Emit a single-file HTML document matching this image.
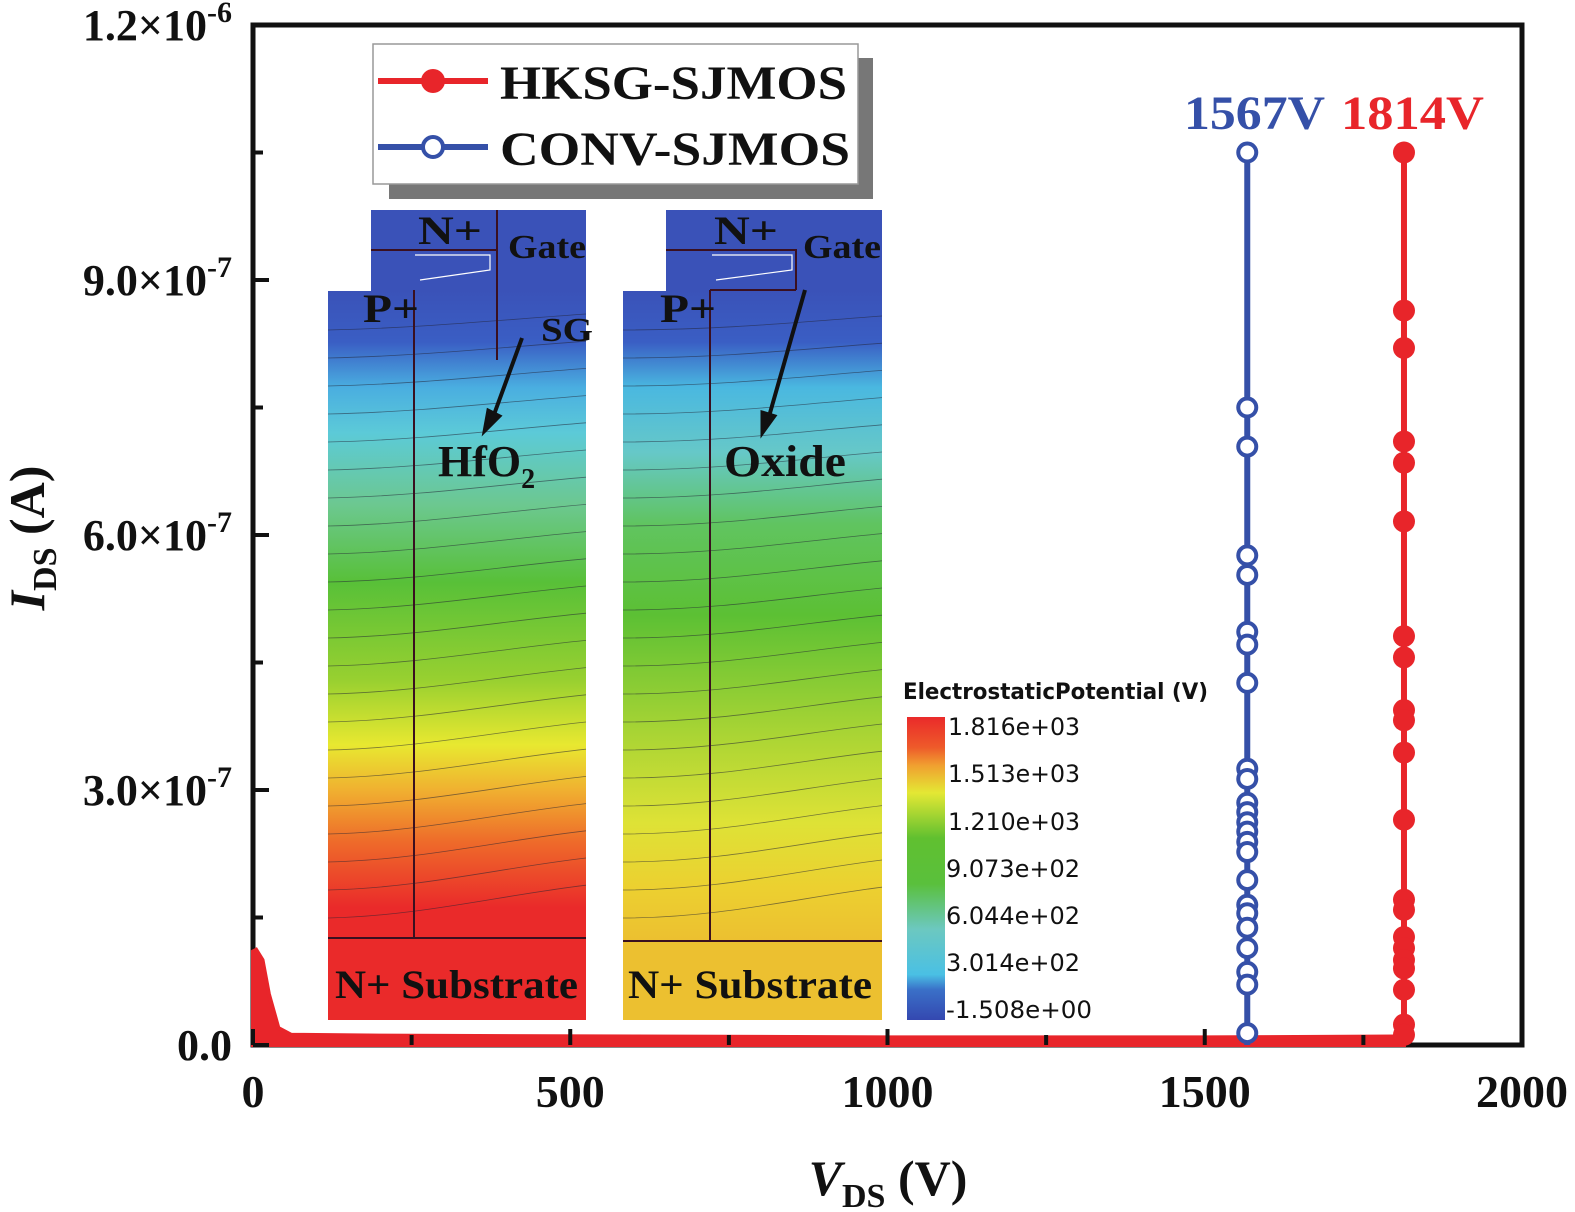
<!DOCTYPE html>
<html><head><meta charset="utf-8"><style>
body{margin:0;background:#fff}
svg{display:block}
.t{font-family:"Liberation Serif",serif;font-weight:bold;fill:#111}
.s{font-family:"DejaVu Sans","Liberation Sans",sans-serif;fill:#111}
</style></head><body>
<svg id="c" width="1575" height="1212" viewBox="0 0 1575 1212" xmlns="http://www.w3.org/2000/svg">
<defs>
<linearGradient id="gL" gradientUnits="userSpaceOnUse" x1="0" y1="290" x2="0" y2="940">
<stop offset="0" stop-color="#3a52b8"/><stop offset="0.08" stop-color="#3a5ec4"/><stop offset="0.15" stop-color="#4aaee0"/><stop offset="0.22" stop-color="#5ccad8"/><stop offset="0.33" stop-color="#6cc890"/><stop offset="0.45" stop-color="#58c038"/><stop offset="0.6" stop-color="#98d030"/><stop offset="0.7" stop-color="#e8e830"/><stop offset="0.77" stop-color="#f0b030"/><stop offset="0.85" stop-color="#ee6a2a"/><stop offset="0.95" stop-color="#ea2a2a"/><stop offset="1" stop-color="#ea2a2a"/>
</linearGradient>
<linearGradient id="gR" gradientUnits="userSpaceOnUse" x1="0" y1="290" x2="0" y2="940">
<stop offset="0" stop-color="#3a52b8"/><stop offset="0.08" stop-color="#3a5ec4"/><stop offset="0.15" stop-color="#4ab8e0"/><stop offset="0.25" stop-color="#66c8c8"/><stop offset="0.36" stop-color="#60c460"/><stop offset="0.5" stop-color="#5cc034"/><stop offset="0.68" stop-color="#a8d434"/><stop offset="0.82" stop-color="#dee236"/><stop offset="0.92" stop-color="#ecd030"/><stop offset="1" stop-color="#ecc030"/>
</linearGradient>
<linearGradient id="gC" x1="0" y1="1" x2="0" y2="0">
<stop offset="0" stop-color="#3448b0"/><stop offset="0.1" stop-color="#3a70c8"/><stop offset="0.15" stop-color="#4ac0e4"/><stop offset="0.3" stop-color="#6cc8c0"/><stop offset="0.45" stop-color="#5ac03c"/><stop offset="0.6" stop-color="#60c030"/><stop offset="0.75" stop-color="#e4e834"/><stop offset="0.84" stop-color="#f0a030"/><stop offset="0.9" stop-color="#ee5a2a"/><stop offset="1" stop-color="#ea2a2a"/>
</linearGradient>
</defs>
<g id="insets">
<path d="M371,210H586V1020H328V291H371Z" fill="url(#gL)"/>
<rect x="328" y="938" width="258" height="82" fill="#ea2a2a"/>
<path d="M666,210H882V941H623V291H666Z" fill="url(#gR)"/>
<rect x="623" y="941" width="259" height="79" fill="#ecc030"/>
<g id="contours" stroke="#223" stroke-width="0.8" fill="none" opacity="0.55"></g>
<path d="M414,290V938M328,938H586M371,250H497V290M497,210V360" stroke="#3a1020" stroke-width="2" fill="none"/>
<path d="M710,290V941M623,941H882M666,250H796V290M710,290H796" stroke="#3a1020" stroke-width="2" fill="none"/>
<path d="M415,255H490V270L420,280" stroke="#fff" stroke-width="1.2" fill="none"/>
<path d="M712,255H792V270L716,280" stroke="#fff" stroke-width="1.2" fill="none"/>
<text class="t" x="418" y="244" font-size="40" textLength="64" lengthAdjust="spacingAndGlyphs">N+</text>
<text class="t" x="508" y="258" font-size="34" textLength="78" lengthAdjust="spacingAndGlyphs">Gate</text>
<text class="t" x="363" y="322" font-size="40" textLength="56" lengthAdjust="spacingAndGlyphs">P+</text>
<text class="t" x="541" y="341" font-size="34" textLength="52" lengthAdjust="spacingAndGlyphs">SG</text>
<text class="t" x="438" y="476" font-size="44">HfO<tspan font-size="28" dy="12">2</tspan></text>
<text class="t" x="335" y="998" font-size="40" textLength="243" lengthAdjust="spacingAndGlyphs">N+ Substrate</text>
<text class="t" x="714" y="244" font-size="40" textLength="64" lengthAdjust="spacingAndGlyphs">N+</text>
<text class="t" x="803" y="258" font-size="34" textLength="78" lengthAdjust="spacingAndGlyphs">Gate</text>
<text class="t" x="660" y="322" font-size="40" textLength="56" lengthAdjust="spacingAndGlyphs">P+</text>
<text class="t" x="724" y="476" font-size="44" textLength="122" lengthAdjust="spacingAndGlyphs">Oxide</text>
<text class="t" x="628" y="998" font-size="40" textLength="244" lengthAdjust="spacingAndGlyphs">N+ Substrate</text>
<path d="M522,338L492,420M805,290L768,420" stroke="#111" stroke-width="4"/>
<path d="M484,432L488,410L500,416Z M762,434L762,412L775,416Z" fill="#111" stroke="#111" stroke-width="3"/>
</g>
<g>
<text class="s" x="903" y="699" font-size="22" font-weight="bold" textLength="305" lengthAdjust="spacingAndGlyphs">ElectrostaticPotential (V)</text>
<rect x="907" y="717" width="38" height="303" fill="url(#gC)"/>
<g font-size="24">
<text x="948" y="735" class="s" textLength="132" lengthAdjust="spacingAndGlyphs">1.816e+03</text>
<text x="948" y="782" class="s" textLength="132" lengthAdjust="spacingAndGlyphs">1.513e+03</text>
<text x="948" y="830" class="s" textLength="132" lengthAdjust="spacingAndGlyphs">1.210e+03</text>
<text x="946" y="877" class="s" textLength="134" lengthAdjust="spacingAndGlyphs">9.073e+02</text>
<text x="946" y="924" class="s" textLength="134" lengthAdjust="spacingAndGlyphs">6.044e+02</text>
<text x="946" y="971" class="s" textLength="134" lengthAdjust="spacingAndGlyphs">3.014e+02</text>
<text x="946" y="1018" class="s" textLength="146" lengthAdjust="spacingAndGlyphs">-1.508e+00</text>
</g></g>
<g id="plot"></g>
<g>
<rect x="389" y="58" width="484" height="141" fill="#777"/>
<rect x="373" y="44" width="485" height="140" fill="#fff" stroke="#999" stroke-width="1.5"/>
<line x1="378" y1="81" x2="488" y2="81" stroke="#e8252a" stroke-width="6"/>
<circle cx="433" cy="81" r="12" fill="#e8252a"/>
<text class="t" x="500" y="99" font-size="48" textLength="347" lengthAdjust="spacingAndGlyphs">HKSG-SJMOS</text>
<line x1="378" y1="147" x2="488" y2="147" stroke="#3550a8" stroke-width="6"/>
<circle cx="433" cy="147" r="10" fill="#fff" stroke="#3550a8" stroke-width="4"/>
<text class="t" x="500" y="165" font-size="48" textLength="350" lengthAdjust="spacingAndGlyphs">CONV-SJMOS</text>
</g>
<text class="t" x="1184" y="129" font-size="48" style="fill:#3550a8" textLength="141" lengthAdjust="spacingAndGlyphs">1567V</text>
<text class="t" x="1341" y="129" font-size="48" style="fill:#e8252a" textLength="143" lengthAdjust="spacingAndGlyphs">1814V</text>
</svg>
<script>
const xTicks=[0,500,1000,1500,2000];
const yTicks=[0,3,6,9,12];
const yTickLabels=["0.0","3.0×10","6.0×10","9.0×10","1.2×10"];
const yTickExp=["","-7","-7","-7","-6"];
const convV=1567;
const convI=[10.5,7.5,7.04,5.76,5.53,4.86,4.71,4.26,3.25,3.13,2.85,2.74,2.62,2.51,2.39,2.27,1.94,1.65,1.55,1.38,1.14,0.86,0.71,0.14];
const hksgV=1814;
const hksgI=[10.5,8.64,8.2,7.1,6.85,6.16,4.81,4.56,3.94,3.82,3.44,2.65,1.71,1.59,1.27,1.14,1.0,0.9,0.65,0.24,0.12];
const leakV=[0,5,15,25,40,60,200,1000,1500,1814];
const leakI=[1.1,1.12,1.0,0.6,0.2,0.12,0.11,0.09,0.09,0.1];
const NS='http://www.w3.org/2000/svg';
const X0=253,X1=1522,Y0=1045,Y1=25;
const xs=v=>X0+(v/2000)*(X1-X0);
const ys=i=>Y0-(i/12)*(Y0-Y1);
const plot=document.getElementById('plot');
function mk(t,a,p){const e=document.createElementNS(NS,t);for(const k in a)e.setAttribute(k,a[k]);(p||plot).appendChild(e);return e;}
const cg=document.getElementById('contours');
for(let k=0;k<22;k++){const y=330+k*28;
 mk('path',{d:`M328,${y} C420,${y-2} 500,${y-10-k*0.6} 586,${y-16-k*0.8}`},cg);
 mk('path',{d:`M623,${y} C720,${y} 800,${y-8-k*0.6} 882,${y-14-k*0.8}`},cg);}
const ax=mk('rect',{x:X0,y:Y1,width:X1-X0,height:Y0-Y1,fill:'none',stroke:'#111','stroke-width':5});


const cb=mk('polyline',{points:`${xs(0)},${ys(0.05)} ${xs(convV)},${ys(0.05)}`,stroke:'#3550a8','stroke-width':5,fill:'none'});


let pts=leakV.map((v,i)=>`${xs(v)},${ys(leakI[i])}`).join(' ');
const ra=mk('polygon',{points:`${xs(0)},${Y0} ${pts} ${xs(hksgV)},${Y0}`,fill:'#e8252a',stroke:'#e8252a','stroke-width':4});


const cl=mk('line',{x1:xs(convV),x2:xs(convV),y1:ys(convI[0]),y2:ys(0),stroke:'#3550a8','stroke-width':6});


convI.forEach(i=>{const c=mk('circle',{cx:xs(convV),cy:ys(i),r:9,fill:'#fff',stroke:'#3550a8','stroke-width':4});

});
const hl=mk('line',{x1:xs(hksgV),x2:xs(hksgV),y1:ys(hksgI[0]),y2:ys(0),stroke:'#e8252a','stroke-width':6});


hksgI.forEach(i=>{const c=mk('circle',{cx:xs(hksgV),cy:ys(i),r:11,fill:'#e8252a'});

});
for(let v=0;v<=2000;v+=250){const maj=v%500==0;mk('line',{x1:xs(v),x2:xs(v),y1:Y0,y2:Y0-(maj?16:10),stroke:'#111','stroke-width':4});}
for(let i=0;i<=12;i+=1.5){const maj=(i%3==0);mk('line',{x1:X0,x2:X0+(maj?16:10),y1:ys(i),y2:ys(i),stroke:'#111','stroke-width':4});}
xTicks.forEach(v=>{const t=mk('text',{x:xs(v),y:1107,'text-anchor':'middle','font-size':46,class:'t'});t.textContent=v;

});
yTicks.forEach((i,k)=>{const t=mk('text',{x:232,y:ys(i)+15,'text-anchor':'end','font-size':44,class:'t'});
t.textContent=yTickLabels[k];
if(yTickExp[k]){const s=mk('tspan',{dy:-18,'font-size':30},t);s.textContent=yTickExp[k];}

});
const xt=mk('text',{x:888,y:1195,'text-anchor':'middle','font-size':50,class:'t'});
xt.innerHTML='<tspan font-style="italic">V</tspan><tspan font-size="34" dy="12">DS</tspan><tspan dy="-12"> (V)</tspan>';


const yt=mk('text',{x:0,y:0,'text-anchor':'middle','font-size':50,class:'t',transform:'translate(44,538) rotate(-90)'});
yt.innerHTML='<tspan font-style="italic">I</tspan><tspan font-size="34" dy="12">DS</tspan><tspan dy="-12"> (A)</tspan>';


</script>
</body></html>
